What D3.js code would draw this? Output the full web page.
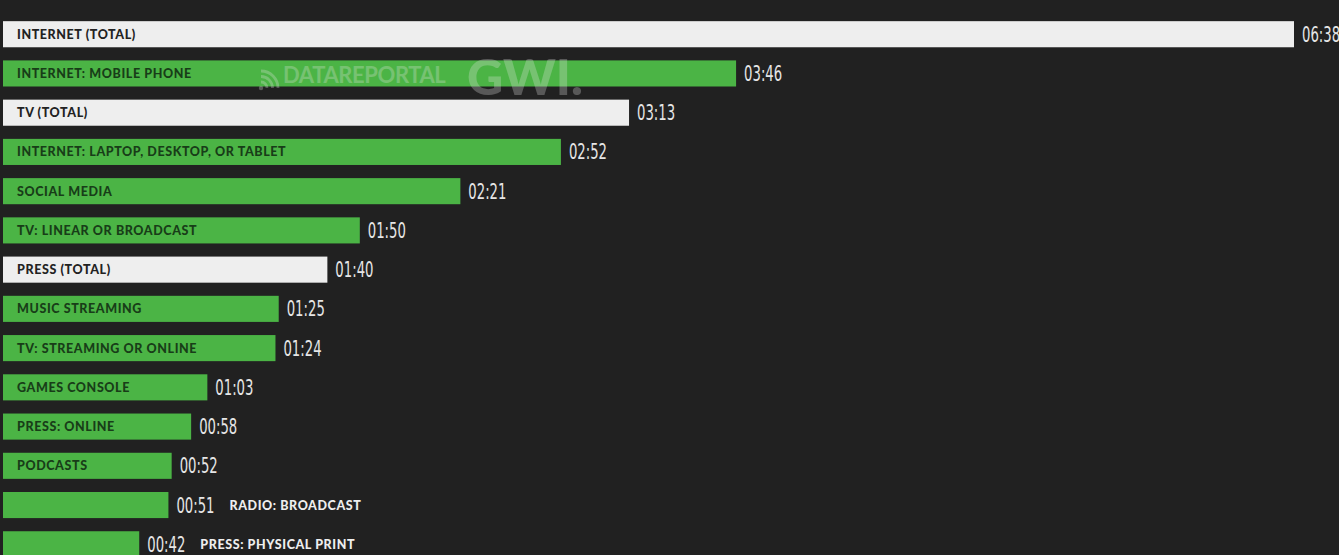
<!DOCTYPE html>
<html>
<head>
<meta charset="utf-8">
<script src="https://cdn.jsdelivr.net/npm/d3@7"></script>
<style>
  html, body { margin: 0; padding: 0; background: #212121; }
  svg { display: block; }
</style>
</head>
<body>
<svg id="chart" width="1339" height="555"></svg>
<script>
// Daily time spent with media (hh:mm)
const categories = [
  "INTERNET (TOTAL)",
  "INTERNET: MOBILE PHONE",
  "TV (TOTAL)",
  "INTERNET: LAPTOP, DESKTOP, OR TABLET",
  "SOCIAL MEDIA",
  "TV: LINEAR OR BROADCAST",
  "PRESS (TOTAL)",
  "MUSIC STREAMING",
  "TV: STREAMING OR ONLINE",
  "GAMES CONSOLE",
  "PRESS: ONLINE",
  "PODCASTS",
  "RADIO: BROADCAST",
  "PRESS: PHYSICAL PRINT"
];
const timeLabels = ["06:38","03:46","03:13","02:52","02:21","01:50","01:40","01:25","01:24","01:03","00:58","00:52","00:51","00:42"];
const totals = ["INTERNET (TOTAL)", "TV (TOTAL)", "PRESS (TOTAL)"];
const outsideLabels = ["RADIO: BROADCAST", "PRESS: PHYSICAL PRINT"];

const minutes = timeLabels.map(t => { const [h, m] = t.split(":").map(Number); return h * 60 + m; });
const rows = categories.map((c, i) => ({ name: c, label: timeLabels[i], value: minutes[i] }));

const svg = d3.select("#chart");

const x = d3.scaleLinear().domain([0, 398]).range([3, 1294]);
const y = d3.scaleBand().domain(categories).range([14.5, 564]).paddingInner(0.335).paddingOuter(0.17);

const green = "#4bb445", white = "#eeeeee";

const g = svg.append("g");
const row = g.selectAll("g.row").data(rows).join("g").attr("class", "row");

row.append("rect")
  .attr("x", x(0))
  .attr("y", d => y(d.name))
  .attr("width", d => x(d.value) - x(0))
  .attr("height", y.bandwidth())
  .attr("fill", d => totals.includes(d.name) ? white : green);

// value label right of each bar, in a narrow condensed face
row.append("text")
  .attr("x", d => x(d.value) + 8)
  .attr("y", d => y(d.name) + y.bandwidth() / 2)
  .attr("dy", "0.36em")
  .attr("font-family", "'Liberation Sans Narrow', 'DejaVu Sans Condensed', sans-serif")
  .attr("font-size", 21)
  .attr("fill", "#e6e6e6")
  .attr("transform", d => `translate(${x(d.value) + 8},0) scale(0.7,1) translate(${-(x(d.value) + 8)},0)`)
  .text(d => d.label);

// category label: inside the bar, or after the value when the bar is short
row.append("text")
  .attr("x", d => outsideLabels.includes(d.name) ? x(d.value) + 61 : 17)
  .attr("y", d => y(d.name) + y.bandwidth() / 2)
  .attr("dy", "0.36em")
  .attr("font-family", "Lato, 'Open Sans', sans-serif")
  .attr("font-weight", 900)
  .attr("font-size", 12.5)
  .attr("letter-spacing", 0.6)
  .attr("fill", d => outsideLabels.includes(d.name) ? "#eeeeee" : (totals.includes(d.name) ? "#222222" : "#183d18"))
  .text(d => d.name);

// watermark
const wm = svg.append("g").attr("opacity", 0.28).attr("fill", "#e8e8e8");
wm.append("text")
  .attr("x", 283).attr("y", 83)
  .attr("font-family", "Lato, sans-serif").attr("font-weight", 700).attr("font-size", 22)
  .attr("letter-spacing", -0.4)
  .text("DATAREPORTAL");
wm.append("text")
  .attr("x", 467).attr("y", 95)
  .attr("font-family", "Lato, sans-serif").attr("font-weight", 900).attr("font-size", 50)
  .text("GWI.");
// broadcast-style icon before the watermark text, arcs opening to the upper right
const icon = wm.append("g").attr("transform", "translate(261,88)").attr("fill", "none").attr("stroke", "#e8e8e8").attr("stroke-width", 2.8);
[6, 11.5, 17].forEach(r => {
  icon.append("path").attr("d", d3.arc()({ innerRadius: r, outerRadius: r, startAngle: 0, endAngle: Math.PI / 2 }));
});
icon.append("circle").attr("r", 2.2).attr("fill", "#e8e8e8").attr("stroke", "none");
</script>
</body>
</html>
